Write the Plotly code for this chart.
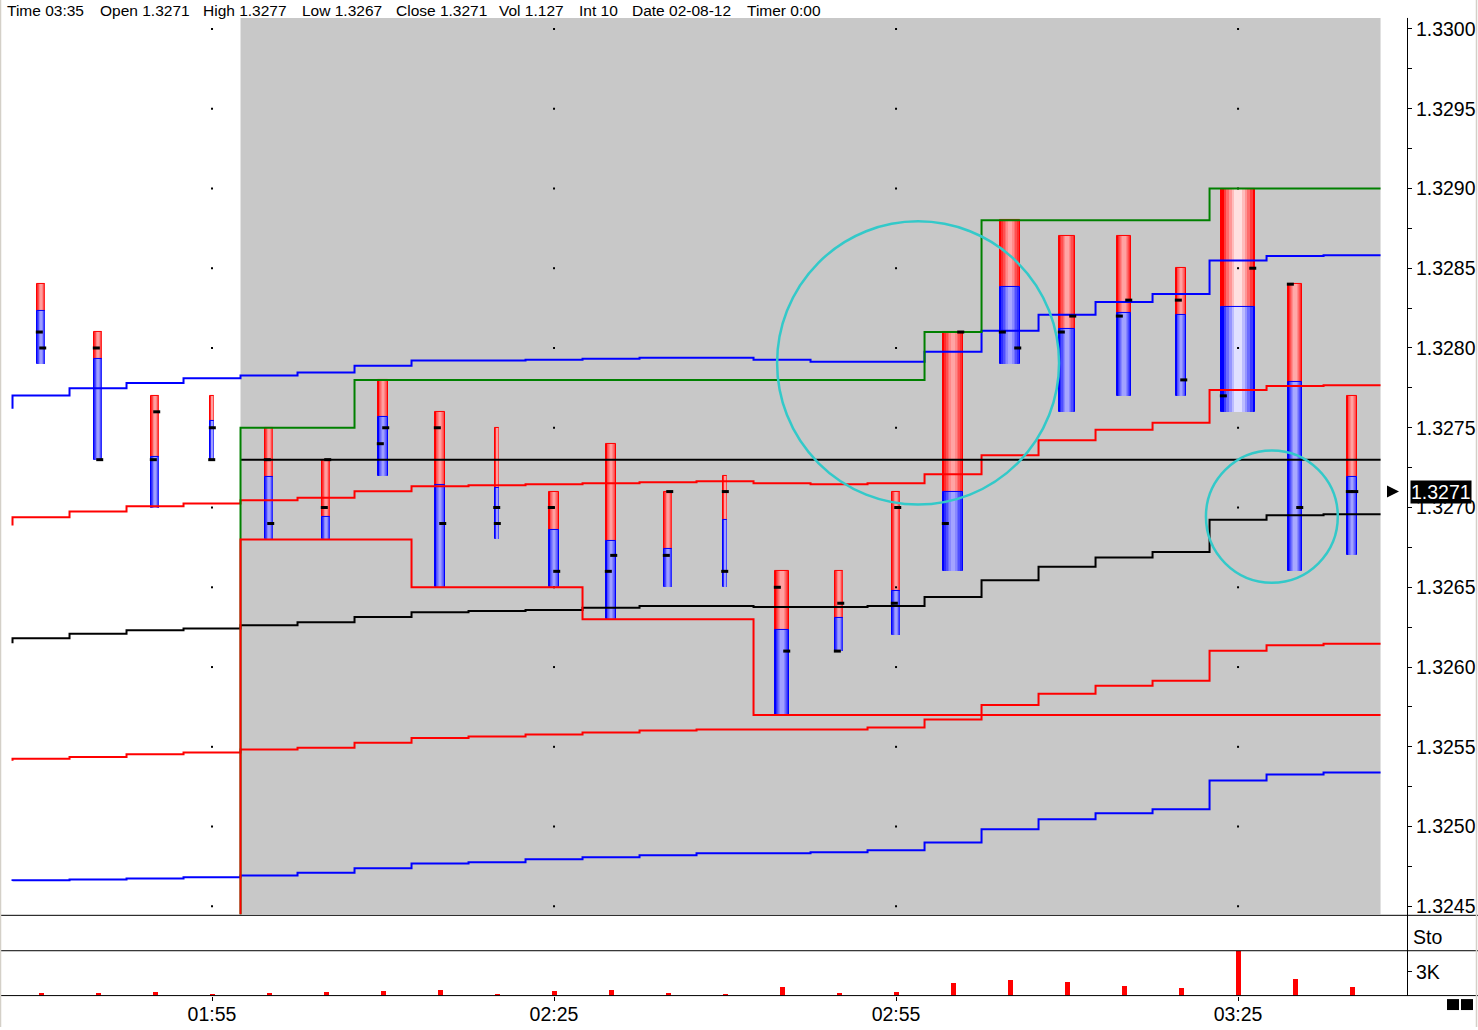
import numpy as np
import plotly.graph_objects as go

# %%
# Data (EUR/USD, 5 min bars, 02-08-12)
times = ["01:40", "01:45", "01:50", "01:55", "02:00", "02:05", "02:10", "02:15",
         "02:20", "02:25", "02:30", "02:35", "02:40", "02:45", "02:50", "02:55",
         "03:00", "03:05", "03:10", "03:15", "03:20", "03:25", "03:30", "03:35"]
opens = [1.3281, 1.3280, 1.3273, 1.3275, 1.3273, 1.3270, 1.3274, 1.3275,
         1.3269, 1.3270, 1.3266, 1.3267, 1.3271, 1.3265, 1.3261, 1.3264,
         1.3269, 1.3281, 1.3281, 1.3282, 1.3283, 1.3277, 1.3284, 1.3271]
highs = [1.3284, 1.3281, 1.3277, 1.3277, 1.3275, 1.3273, 1.3278, 1.3276,
         1.3275, 1.3271, 1.3274, 1.3271, 1.3272, 1.3266, 1.3266, 1.3271,
         1.3281, 1.3288, 1.3287, 1.3287, 1.3285, 1.3290, 1.3284, 1.3277]
lows = [1.3279, 1.3273, 1.3270, 1.3273, 1.3268, 1.3268, 1.3272, 1.3265,
        1.3268, 1.3265, 1.3263, 1.3265, 1.3265, 1.3257, 1.3261, 1.3262,
        1.3266, 1.3279, 1.3276, 1.3277, 1.3277, 1.3276, 1.3266, 1.3267]
closes = [1.3280, 1.3273, 1.3276, 1.3273, 1.3269, 1.3273, 1.3275, 1.3269,
          1.3270, 1.3266, 1.3267, 1.3271, 1.3266, 1.3261, 1.3264, 1.3270,
          1.3281, 1.3280, 1.3282, 1.3283, 1.3278, 1.3285, 1.3270, 1.3271]
# price where the red (upper) part of each bar meets the blue (lower) part
splits = [1.32823, 1.32793, 1.32732, 1.32754, 1.32719, 1.32694, 1.32757, 1.32714,
          1.32712, 1.32686, 1.32679, 1.32674, 1.32692, 1.32623, 1.32631, 1.32648,
          1.32710, 1.32838, 1.32812, 1.32822, 1.32821, 1.32826, 1.32779, 1.32719]
tick_volume = [90, 90, 90, 50, 90, 90, 110, 110, 50, 110, 110, 90,
               50, 150, 90, 90, 210, 210, 170, 150, 110, 350, 150, 110]
volume = [380, 370, 510, 240, 390, 500, 630, 760, 260, 620, 740, 380,
          250, 1130, 370, 490, 1630, 2010, 1760, 1240, 990, 5640, 2130, 1127]

vwap_up2 = [1.327702, 1.327748, 1.327781, 1.327811, 1.327827, 1.327846, 1.327889, 1.327921,
            1.327921, 1.327927, 1.327933, 1.327939, 1.327939, 1.327927, 1.327914, 1.327914,
            1.327977, 1.328108, 1.328208, 1.328289, 1.328339, 1.328548, 1.328577, 1.328581]
vwap_up1 = [1.326939, 1.326975, 1.327008, 1.327025, 1.327046, 1.327062, 1.327102, 1.327133,
            1.327139, 1.327146, 1.327152, 1.327158, 1.327164, 1.327152, 1.327146, 1.327152,
            1.327209, 1.327327, 1.327421, 1.327487, 1.327531, 1.327736, 1.327762, 1.327766]
vwap = [1.326181, 1.326208, 1.326231, 1.326242, 1.326262, 1.326281, 1.326314, 1.326344,
        1.326352, 1.326358, 1.326371, 1.326383, 1.326383, 1.326377, 1.326377, 1.326383,
        1.326439, 1.326544, 1.326629, 1.326686, 1.326721, 1.326923, 1.326952, 1.326958]
vwap_dn1 = [1.325425, 1.325436, 1.325454, 1.325464, 1.325483, 1.325494, 1.325525, 1.325556,
            1.325564, 1.325577, 1.325589, 1.325602, 1.325608, 1.325608, 1.325608, 1.325621,
            1.325671, 1.325762, 1.325833, 1.325883, 1.325914, 1.326102, 1.326137, 1.326146]
vwap_dn2 = [1.324664, 1.324669, 1.324675, 1.324683, 1.324694, 1.324711, 1.324739, 1.324769,
            1.324777, 1.324796, 1.324808, 1.324821, 1.324833, 1.324833, 1.324839, 1.324852,
            1.324900, 1.324983, 1.325046, 1.325083, 1.325108, 1.325289, 1.325327, 1.325339]
# band values of the bar before the first one shown
band_prior = [1.327619, 1.326888, 1.326150, 1.325412, 1.324659]

session_first_bar = "02:00"
tick_labels = ["01:55", "02:25", "02:55", "03:25"]
price_labels = ["1.3245", "1.3250", "1.3255", "1.3260", "1.3265", "1.3270",
                "1.3275", "1.3280", "1.3285", "1.3290", "1.3295", "1.3300"]
header_items = ["Time", "Open", "High", "Low", "Close", "Vol", "Int", "Date", "Timer"]
interval = 10
chart_date = "02-08-12"
timer = "0:00"

# drawn circles: start time, end time, low price, high price
circles = [("02:44:34", "03:09:18", 1.327019, 1.328794),
           ("03:22:11", "03:33:45", 1.326529, 1.327358)]

# %%
# Helpers
W, H = 1478, 1030
FONT = "Arial, Liberation Sans, sans-serif"


def to_min(s):
    p = [int(v) for v in s.split(":")]
    return p[0] * 60 + p[1] + (p[2] / 60 if len(p) > 2 else 0)


def fx(px):
    return px / W


def fy(py):
    return 1 - py / H


def rgb(c):
    return "rgb(%d,%d,%d)" % tuple(int(round(v)) for v in c)


def shade(edge, m):
    return rgb([e + (255 - e) * m for e in edge])


def step_xy(xs, vals, start=None):
    x = list(xs - HALF) + [xs[-1] + HALF]
    y = list(vals) + [vals[-1]]
    if start is not None:
        x = [x[0]] + x
        y = [start] + y
    return x, y


t = np.array([to_min(s) for s in times])
o, h, l, c = (np.array(v) for v in (opens, highs, lows, closes))
sp = np.array(splits)
HALF = (t[1] - t[0]) / 2
X0, X1 = t[0] - 3.51, t[-1] + 4.82
DOM_X = [fx(1), fx(1407)]
PX_PER_MIN = (DOM_X[1] - DOM_X[0]) * W / (X1 - X0)
P_BOT, P_TOP = 1.32445, 1.3300688
s0 = times.index(session_first_bar)

fig = go.Figure()

# grid dots
tick_t = [to_min(s) for s in tick_labels]
grid_p = [float(v) for v in price_labels]
fig.add_trace(go.Scatter(x=[a for a in tick_t for _ in grid_p], y=grid_p * len(tick_t),
                         mode="markers", marker=dict(symbol="square", size=2, color="black"),
                         hoverinfo="skip"))

# VWAP and deviation bands
bands = [(vwap_up2, "#0000FF"), (vwap_up1, "#FF0000"), (vwap, "#000000"),
         (vwap_dn1, "#FF0000"), (vwap_dn2, "#0000FF")]
for (vals, col), prior in zip(bands, band_prior):
    x, y = step_xy(t, vals, prior)
    fig.add_trace(go.Scatter(x=x, y=y, mode="lines", line=dict(color=col, width=2, shape="hv"),
                             hoverinfo="skip"))

# session open, high and low
ts = t[s0:]
fig.add_trace(go.Scatter(x=[ts[0] - HALF, ts[-1] + HALF], y=[o[s0], o[s0]], mode="lines",
                         line=dict(color="black", width=2), hoverinfo="skip"))
x, y = step_xy(ts, np.maximum.accumulate(h[s0:]), P_BOT - 0.0005)
fig.add_trace(go.Scatter(x=x, y=y, mode="lines", line=dict(color="#008000", width=2, shape="hv"),
                         hoverinfo="skip"))
x, y = step_xy(ts, np.minimum.accumulate(l[s0:]), P_BOT - 0.0005)
fig.add_trace(go.Scatter(x=x, y=y, mode="lines", line=dict(color="#FF0000", width=2, shape="hv"),
                         hoverinfo="skip"))

# shaded bars (red upper part, blue lower part)
bar_px = np.array(tick_volume) / 10 - 0.6
bar_w = bar_px / PX_PER_MIN
vol = np.array(volume, float)
light = 0.62 + 0.26 * (vol / vol.max()) ** 2
N_LAYERS = 6
for base, top, edge in ((sp, h, (255, 0, 0)), (l, sp, (0, 0, 255))):
    for k in range(N_LAYERS):
        frac = 1 - 0.78 * k / (N_LAYERS - 1)
        mix = light * (k / (N_LAYERS - 1)) ** 0.8
        fig.add_trace(go.Bar(
            x=t, y=top - base, base=base, width=bar_w * frac,
            marker=dict(color=[shade(edge, m) for m in mix],
                        line=dict(width=1 if k == 0 else 0, color=rgb(edge))),
            hoverinfo="skip"))

# open / close ticks
TICK_PX = 5
off = (bar_w / 2) - (TICK_PX / 2) / PX_PER_MIN
for xs, ys in ((t - off, o), (t + off, c)):
    fig.add_trace(go.Scatter(x=xs, y=ys, mode="markers",
                             marker=dict(symbol="line-ew", size=TICK_PX,
                                         line=dict(width=3, color="black")),
                             hoverinfo="skip"))

# volume
fig.add_trace(go.Bar(x=t, y=vol, width=5 / PX_PER_MIN, yaxis="y2",
                     marker=dict(color="#FF0000", line=dict(width=0)), hoverinfo="skip"))

# last price arrow
fig.add_trace(go.Scatter(x=[X1 - 8 / PX_PER_MIN], y=[c[-1]], mode="markers",
                         marker=dict(symbol="arrow-right", size=12, color="black"),
                         cliponaxis=False, hoverinfo="skip"))

# %%
# Layout
shapes = [
    dict(type="rect", xref="x", yref="y domain", x0=ts[0] - HALF, x1=ts[-1] + HALF, y0=0, y1=1,
         fillcolor="#C8C8C8", line=dict(width=0), layer="below"),
]
for a, b, p0, p1 in circles:
    shapes.append(dict(type="circle", xref="x", yref="y", x0=to_min(a), x1=to_min(b), y0=p0, y1=p1,
                       line=dict(color="#33C9C9", width=2.5), layer="above"))
for py in (918, 953.5, 998.5):
    shapes.append(dict(type="line", xref="paper", yref="paper", x0=0, x1=1, y0=fy(py), y1=fy(py),
                       line=dict(color="black", width=1), layer="above"))
shapes.append(dict(type="line", xref="paper", yref="paper", x0=fx(1407.5), x1=fx(1407.5),
                   y0=fy(998.5), y1=fy(18), line=dict(color="black", width=1), layer="above"))
for px in (0.5, 1476.5):
    shapes.append(dict(type="line", xref="paper", yref="paper", x0=fx(px), x1=fx(px), y0=0, y1=1,
                       line=dict(color="#D4D0C8", width=1.5), layer="above"))
for x0 in (1447, 1461):
    shapes.append(dict(type="rect", xref="paper", yref="paper", x0=fx(x0), x1=fx(x0 + 12),
                       y0=fy(1013), y1=fy(1002), fillcolor="black", line=dict(width=0)))

header_vals = [times[-1], "%.4f" % o[-1], "%.4f" % highs[-1], "%.4f" % lows[-1],
               "%.4f" % c[-1], "%.3f" % (vol[-1] / 1000), str(interval), chart_date, timer]
header_x = [5, 98, 201, 300, 394, 497, 577, 630, 745]
annotations = []
for name, val, px in zip(header_items, header_vals, header_x):
    annotations.append(dict(text=f"{name} {val}", xref="paper", yref="paper", x=fx(px), y=fy(11),
                            xanchor="left", yanchor="middle", showarrow=False,
                            font=dict(family=FONT, size=15.5, color="black")))
annotations.append(dict(text="Sto", xref="paper", yref="paper", x=fx(1411), y=fy(940),
                        xanchor="left", yanchor="middle", showarrow=False,
                        font=dict(family=FONT, size=19.5, color="black")))
annotations.append(dict(text="%.4f" % c[-1], xref="paper", yref="y", x=fx(1410), y=c[-1],
                        xanchor="left", yanchor="middle", showarrow=False, bgcolor="black",
                        borderpad=0, font=dict(family=FONT, size=19.5, color="white")))

axis_font = dict(family=FONT, size=19.5, color="black")
minor_p = np.arange(P_BOT + 0.00005, P_TOP, 0.00025)

fig.update_layout(
    width=W, height=H, margin=dict(l=0, r=0, t=0, b=0),
    paper_bgcolor="white", plot_bgcolor="white",
    showlegend=False, barmode="overlay", bargap=0, hovermode=False,
    xaxis=dict(domain=DOM_X, range=[X0, X1], anchor="y2", tickvals=tick_t, ticktext=tick_labels,
               ticks="outside", ticklen=4, tickcolor="black", showgrid=False, zeroline=False,
               showline=False, tickfont=axis_font, ticklabelstandoff=-3),
    yaxis=dict(domain=[fy(917), fy(18)], range=[P_BOT, P_TOP], side="right", anchor="x",
               tickvals=list(np.round(minor_p, 5)),
               ticktext=[f"{v:.4f}" if f"{v:.4f}" in price_labels else "" for v in np.round(minor_p, 5)],
               ticks="outside", ticklen=4, tickcolor="black", showgrid=False, zeroline=False,
               showline=False, tickfont=axis_font),
    yaxis2=dict(domain=[fy(998.5), fy(953.5)], range=[0, 5700], side="right", anchor="x",
                tickvals=[3000], ticktext=["3K"], ticks="outside", ticklen=4, tickcolor="black",
                showgrid=False, zeroline=False, showline=False, tickfont=axis_font),
    shapes=shapes, annotations=annotations,
)

fig.write_html("out.html", config={"displayModeBar": False},
               post_script="document.body.style.margin='0';")
